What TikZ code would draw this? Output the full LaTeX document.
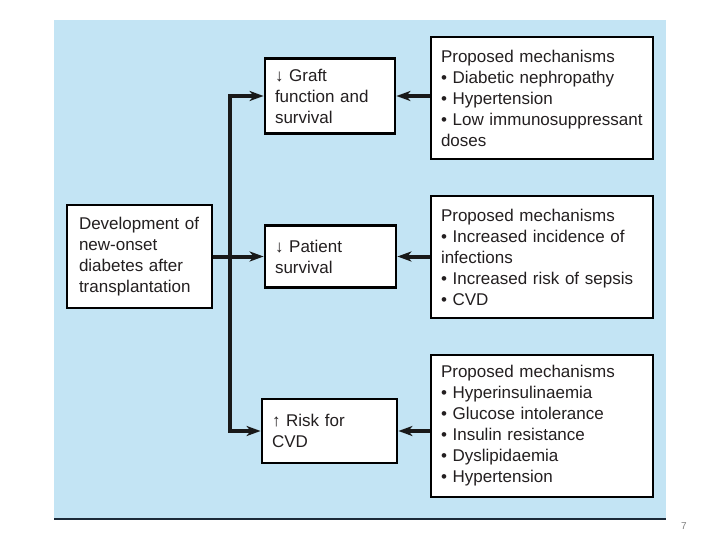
\documentclass[tikz,border=0pt]{standalone}
\usepackage{fontspec}
\setmainfont{Liberation Sans}
\usetikzlibrary{arrows.meta}
\definecolor{panelblue}{HTML}{C3E4F4}
\definecolor{inktext}{HTML}{231F20}
\definecolor{rulenavy}{HTML}{1C2A38}
\tikzset{
	box/.style={draw=black,line width=2.8pt,fill=white,text=inktext,align=left,inner xsep=10pt,inner ysep=0pt,font=\fontsize{17}{21}\selectfont},
	arr/.style={->,line width=4pt,draw=black!90},
}
\begin{document}
\begin{tikzpicture}[x=1pt,y=-1pt,>={Stealth[length=14pt,width=10pt,inset=4pt]}]
				\useasboundingbox (0,0) rectangle (720,540);
				\fill[panelblue] (54,20) rectangle (666,518);
				\draw[line width=1.5pt,color=rulenavy] (54,519)--(666,519);
				\node[text=gray,font=\fontsize{10}{12}\selectfont] (pagenum) at (684,526) {7};
				\node[box,inner xsep=12pt,text width=121pt,minimum height=103pt] (dev) at (139.5,256.5) {Development of\\new-onset\\diabetes after\\transplantation};
				\node[box,text width=110pt,minimum height=75pt] (graft) at (330,96) {↓ Graft\\function and\\survival};
				\node[box,text width=111pt,minimum height=62pt] (pat) at (330.5,256.5) {↓ Patient\\survival};
				\node[box,text width=115pt,minimum height=64pt] (risk) at (329.5,431) {↑ Risk for\\CVD};
				\node[box,text width=202pt,minimum height=122pt] (mech1) at (542,98) {Proposed mechanisms\\• Diabetic nephropathy\\• Hypertension\\• Low immunosuppressant\\doses};
				\node[box,text width=202pt,minimum height=122pt] (mech2) at (542,257) {Proposed mechanisms\\• Increased incidence of\\infections\\• Increased risk of sepsis\\• CVD};
				\node[box,text width=202pt,minimum height=142pt] (mech3) at (542,426) {Proposed mechanisms\\• Hyperinsulinaemia\\• Glucose intolerance\\• Insulin resistance\\• Dyslipidaemia\\• Hypertension};
				\coordinate (bar) at (230,256.5);
				\draw[arr] (dev.east)--(pat.west);
				\draw[arr] (bar) |- (graft.west);
				\draw[arr] (bar) |- (risk.west);
				\draw[arr] (mech1.west |- graft.east)--(graft.east);
				\draw[arr] (mech2.west |- pat.east)--(pat.east);
				\draw[arr] (mech3.west |- risk.east)--(risk.east);
		\end{tikzpicture}
\end{document}
